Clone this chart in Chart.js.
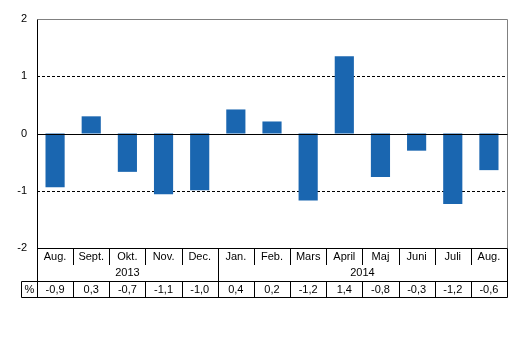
<!DOCTYPE html>
<html>
<head>
<meta charset="utf-8">
<script src="https://cdn.jsdelivr.net/npm/chart.js@4"></script>
<style>
body { margin: 0; background: #fff; }
</style>
</head>
<body>
<canvas id="chart" width="530" height="358"></canvas>
<script>
let months = ["Aug.", "Sept.", "Okt.", "Nov.", "Dec.", "Jan.", "Feb.", "Mars", "April", "Maj", "Juni", "Juli", "Aug."];
let years = [{label: "2013", from: 0, to: 4}, {label: "2014", from: 5, to: 12}];
let values = [-0.94, 0.30, -0.67, -1.06, -0.99, 0.42, 0.21, -1.17, 1.35, -0.76, -0.30, -1.23, -0.64];
let percent = ["-0,9", "0,3", "-0,7", "-1,1", "-1,0", "0,4", "0,2", "-1,2", "1,4", "-0,8", "-0,3", "-1,2", "-0,6"];
let yTicks = [-2, -1, 0, 1, 2];

let barColor = "#1a66b0";
let font = "11px 'Liberation Sans', Arial, sans-serif";

function line(ctx, x1, y1, x2, y2, color, dash) {
    ctx.save();
    ctx.strokeStyle = color;
    ctx.lineWidth = 1;
    ctx.setLineDash(dash || []);
    ctx.beginPath();
    ctx.moveTo(x1, y1);
    ctx.lineTo(x2, y2);
    ctx.stroke();
    ctx.restore();
}

// dashed grid before bars, axis lines and table after
let tablePlugin = {
    id: "table",
    beforeDatasetsDraw(chart) {
        let ctx = chart.ctx;
        let a = chart.chartArea;
        let y = chart.scales.y;
        for (let i = 0; i < yTicks.length; i++) {
            let v = yTicks[i];
            if (v == 1 || v == -1) {
                let py = Math.round(y.getPixelForValue(v)) + 0.5;
                line(ctx, a.left, py, a.right, py, "#000", [3, 2]);
            }
        }
    },
    afterDatasetsDraw(chart) {
        let ctx = chart.ctx;
        let a = chart.chartArea;
        let x = chart.scales.x;
        let y = chart.scales.y;
        let left = Math.round(a.left) + 0.5;
        let right = Math.round(a.right) + 0.5;
        let top = Math.round(a.top) + 0.5;
        let bottom = Math.round(a.bottom) + 0.5;
        let zero = Math.round(y.getPixelForValue(0)) + 0.5;
        let row1 = bottom + 16.5;
        let row2 = bottom + 33;
        let row3 = bottom + 49;
        let pctLeft = 21.5;

        // frame
        line(ctx, left, top, right, top, "#808080");
        line(ctx, right, top, right, bottom, "#808080");
        line(ctx, left, zero, right, zero, "#000");
        line(ctx, left, bottom, right, bottom, "#000");
        line(ctx, left, top, left, row3, "#000");
        line(ctx, right, bottom, right, row3, "#000");
        line(ctx, pctLeft, row2, right, row2, "#000");
        line(ctx, pctLeft, row3, right, row3, "#000");
        line(ctx, pctLeft, row2, pctLeft, row3, "#000");

        let step = (a.right - a.left) / months.length;
        for (let i = 1; i < months.length; i++) {
            let px = Math.round(a.left + step * i) + 0.5;
            let yearBreak = years.some(function (yr) { return yr.from == i; });
            line(ctx, px, bottom, px, yearBreak ? row2 : row1, "#000");
            line(ctx, px, row2, px, row3, "#000");
        }

        ctx.save();
        ctx.font = font;
        ctx.fillStyle = "#000";
        ctx.textAlign = "center";
        ctx.textBaseline = "middle";
        for (let i = 0; i < months.length; i++) {
            let cx = x.getPixelForValue(i);
            ctx.fillText(months[i], cx, bottom + 8.5);
            ctx.fillText(percent[i], cx, row2 + 8);
        }
        for (let i = 0; i < years.length; i++) {
            let cx = (x.getPixelForValue(years[i].from) + x.getPixelForValue(years[i].to)) / 2;
            ctx.fillText(years[i].label, cx, bottom + 24.5);
        }
        ctx.fillText("%", (pctLeft + left) / 2, row2 + 8);
        ctx.restore();
    }
};

new Chart(document.querySelector("#chart"), {
    type: "bar",
    data: {
        labels: months,
        datasets: [{
            data: values,
            backgroundColor: barColor,
            barPercentage: 0.53,
            categoryPercentage: 1
        }]
    },
    options: {
        responsive: false,
        animation: false,
        layout: {
            padding: {top: 19, right: 23, bottom: 110, left: 0}
        },
        plugins: {
            legend: {display: false},
            tooltip: {enabled: false}
        },
        scales: {
            x: {
                display: false
            },
            y: {
                min: -2,
                max: 2,
                afterFit: function (scale) { scale.width = 37; },
                afterBuildTicks: function (scale) {
                    scale.ticks = yTicks.map(function (v) { return {value: v}; });
                },
                grid: {display: false, drawTicks: false},
                border: {display: false},
                ticks: {
                    color: "#000",
                    padding: 10,
                    font: {family: "'Liberation Sans', Arial, sans-serif", size: 11}
                }
            }
        }
    },
    plugins: [tablePlugin]
});
</script>
</body>
</html>
